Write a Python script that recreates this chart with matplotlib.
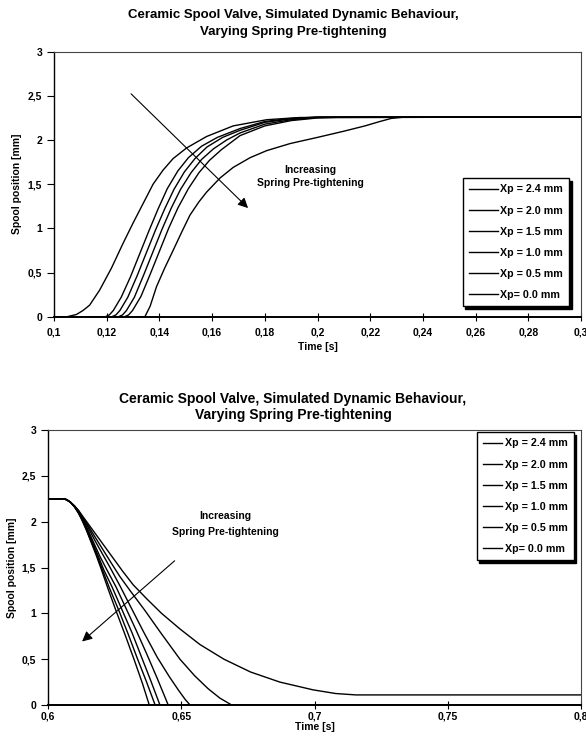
import matplotlib
matplotlib.use("Agg")
import matplotlib.pyplot as plt
from matplotlib.ticker import FuncFormatter, MultipleLocator

plt.rcParams['font.family'] = ['Liberation Sans', 'DejaVu Sans']
plt.rcParams['font.weight'] = 'bold'

# --- data: opening (upper chart) ---
labels = ['Xp = 2.4 mm', 'Xp = 2.0 mm', 'Xp = 1.5 mm', 'Xp = 1.0 mm', 'Xp = 0.5 mm', 'Xp= 0.0 mm']

up_t_24 = [0.100, 0.1345, 0.1365, 0.1389, 0.142, 0.1452, 0.1485, 0.1516, 0.155, 0.1579, 0.1630, 0.1680, 0.1744, 0.1807, 0.1896, 0.200, 0.210, 0.218, 0.2237, 0.228, 0.233, 0.300]
up_v_24 = [0, 0, 0.12, 0.34, 0.55, 0.75, 0.96, 1.15, 1.30, 1.41, 1.57, 1.69, 1.80, 1.88, 1.96, 2.03, 2.10, 2.16, 2.21, 2.245, 2.26, 2.26]
up_t_20 = [0.100, 0.1268, 0.1283, 0.1298, 0.133, 0.1365, 0.140, 0.1435, 0.147, 0.151, 0.155, 0.159, 0.1635, 0.1706, 0.180, 0.190, 0.200, 0.210, 0.300]
up_v_20 = [0, 0, 0.02, 0.07, 0.23, 0.48, 0.74, 1.00, 1.23, 1.45, 1.63, 1.77, 1.89, 2.05, 2.16, 2.22, 2.25, 2.26, 2.26]
up_t_15 = [0.100, 0.1245, 0.126, 0.1275, 0.1305, 0.134, 0.1375, 0.141, 0.1445, 0.148, 0.152, 0.156, 0.1605, 0.1655, 0.1706, 0.180, 0.190, 0.200, 0.300]
up_v_15 = [0, 0, 0.02, 0.07, 0.22, 0.47, 0.73, 0.99, 1.23, 1.44, 1.63, 1.78, 1.90, 2.00, 2.08, 2.18, 2.23, 2.255, 2.26]
up_t_10 = [0.100, 0.122, 0.1235, 0.125, 0.128, 0.1315, 0.135, 0.1385, 0.142, 0.1455, 0.1495, 0.1535, 0.158, 0.164, 0.1706, 0.180, 0.190, 0.200, 0.300]
up_v_10 = [0, 0, 0.02, 0.07, 0.22, 0.46, 0.72, 0.98, 1.22, 1.44, 1.64, 1.79, 1.92, 2.03, 2.11, 2.20, 2.24, 2.26, 2.26]
up_t_05 = [0.100, 0.1195, 0.121, 0.1225, 0.1255, 0.129, 0.1325, 0.136, 0.1395, 0.143, 0.147, 0.151, 0.156, 0.162, 0.1706, 0.180, 0.190, 0.200, 0.300]
up_v_05 = [0, 0, 0.02, 0.07, 0.22, 0.45, 0.71, 0.97, 1.22, 1.45, 1.65, 1.80, 1.93, 2.03, 2.13, 2.21, 2.245, 2.26, 2.26]
up_t_00 = [0.100, 0.105, 0.1085, 0.111, 0.1135, 0.1173, 0.1218, 0.1262, 0.1300, 0.1338, 0.1376, 0.1414, 0.1452, 0.1503, 0.1579, 0.1680, 0.1807, 0.1933, 0.300]
up_v_00 = [0, 0, 0.025, 0.07, 0.13, 0.30, 0.55, 0.83, 1.06, 1.28, 1.50, 1.66, 1.79, 1.91, 2.04, 2.16, 2.23, 2.255, 2.26]

# --- data: closing (lower chart) ---
dn_t_24 = [0.600, 0.6055, 0.607, 0.6085, 0.610, 0.6115, 0.613, 0.6145, 0.616, 0.618, 0.620, 0.6225, 0.6255, 0.629, 0.6325, 0.6355, 0.638, 0.800]
dn_v_24 = [2.25, 2.25, 2.24, 2.21, 2.16, 2.09, 2.00, 1.90, 1.79, 1.64, 1.48, 1.27, 1.03, 0.76, 0.48, 0.23, 0.0, 0.0]
dn_t_20 = [0.600, 0.6055, 0.607, 0.6085, 0.610, 0.6115, 0.613, 0.6145, 0.616, 0.618, 0.6205, 0.623, 0.6266, 0.630, 0.6335, 0.637, 0.6402, 0.800]
dn_v_20 = [2.25, 2.25, 2.24, 2.21, 2.16, 2.09, 2.01, 1.91, 1.80, 1.66, 1.47, 1.28, 1.03, 0.78, 0.51, 0.25, 0.0, 0.0]
dn_t_15 = [0.600, 0.6055, 0.607, 0.6085, 0.610, 0.6115, 0.613, 0.6145, 0.6165, 0.6185, 0.621, 0.624, 0.6279, 0.6315, 0.635, 0.6385, 0.642, 0.800]
dn_v_15 = [2.25, 2.25, 2.24, 2.21, 2.16, 2.10, 2.02, 1.93, 1.79, 1.65, 1.47, 1.29, 1.03, 0.79, 0.53, 0.27, 0.0, 0.0]
dn_t_10 = [0.600, 0.6055, 0.607, 0.6085, 0.610, 0.6115, 0.613, 0.615, 0.617, 0.6195, 0.622, 0.6255, 0.6295, 0.633, 0.637, 0.641, 0.6451, 0.800]
dn_v_10 = [2.25, 2.25, 2.24, 2.21, 2.16, 2.10, 2.03, 1.91, 1.78, 1.62, 1.48, 1.29, 1.04, 0.82, 0.56, 0.29, 0.0, 0.0]
dn_t_05 = [0.600, 0.6055, 0.607, 0.6085, 0.610, 0.6115, 0.613, 0.615, 0.6175, 0.620, 0.6233, 0.627, 0.6314, 0.636, 0.641, 0.6455, 0.649, 0.6515, 0.6533, 0.800]
dn_v_05 = [2.25, 2.25, 2.24, 2.21, 2.17, 2.11, 2.04, 1.94, 1.80, 1.67, 1.50, 1.30, 1.05, 0.79, 0.52, 0.31, 0.16, 0.06, 0.0, 0.0]
dn_t_00 = [0.600, 0.6055, 0.607, 0.6085, 0.610, 0.6115, 0.613, 0.615, 0.6175, 0.6205, 0.6235, 0.627, 0.631, 0.6364, 0.642, 0.6495, 0.655, 0.660, 0.6645, 0.6689, 0.800]
dn_v_00 = [2.25, 2.25, 2.24, 2.21, 2.17, 2.12, 2.05, 1.96, 1.84, 1.70, 1.56, 1.40, 1.24, 1.03, 0.80, 0.50, 0.32, 0.18, 0.075, 0.0, 0.0]
# one more trace in the picture, not in the legend
dn_t_x = [0.600, 0.6055, 0.607, 0.6085, 0.610, 0.6115, 0.613, 0.615, 0.618, 0.621, 0.6245, 0.628, 0.632, 0.637, 0.6426, 0.6495, 0.657, 0.666, 0.676, 0.687, 0.6995, 0.708, 0.7155, 0.800]
dn_v_x = [2.25, 2.25, 2.24, 2.21, 2.17, 2.12, 2.06, 1.98, 1.86, 1.74, 1.60, 1.46, 1.31, 1.16, 1.00, 0.83, 0.66, 0.50, 0.36, 0.25, 0.165, 0.125, 0.11, 0.11]

up_series = [(up_t_24, up_v_24), (up_t_20, up_v_20), (up_t_15, up_v_15),
             (up_t_10, up_v_10), (up_t_05, up_v_05), (up_t_00, up_v_00)]
dn_series = [(dn_t_24, dn_v_24), (dn_t_20, dn_v_20), (dn_t_15, dn_v_15),
             (dn_t_10, dn_v_10), (dn_t_05, dn_v_05), (dn_t_00, dn_v_00)]

title = 'Ceramic Spool Valve, Simulated Dynamic Behaviour,\nVarying Spring Pre-tightening'

comma = FuncFormatter(lambda v, p: ('%g' % round(v, 4)).replace('.', ','))

W, H = 586, 742
fig = plt.figure(figsize=(W / 100, H / 100), dpi=100)


def style(ax, xlim, xstep):
    ax.set_xlim(xlim)
    ax.set_ylim(0, 3)
    ax.xaxis.set_major_locator(MultipleLocator(xstep))
    ax.yaxis.set_major_locator(MultipleLocator(0.5))
    ax.xaxis.set_major_formatter(comma)
    ax.yaxis.set_major_formatter(comma)
    for s in ['top', 'right']:
        ax.spines[s].set_color('#444444')
        ax.spines[s].set_linewidth(0.8)
    ax.spines['bottom'].set_linewidth(1.4)
    ax.spines['left'].set_linewidth(1.0)
    ax.tick_params(axis='x', direction='inout', length=6, width=0.8, labelsize=7.5)
    ax.tick_params(axis='y', direction='out', length=5, width=0.8, labelsize=7.5)
    ax.set_ylabel('Spool position [mm]', fontsize=7.5, fontweight='bold')
    ax.set_xlabel('Time [s]', fontsize=7.5, fontweight='bold')
    for lab in ax.get_xticklabels() + ax.get_yticklabels():
        lab.set_fontweight('bold')


leg_kw = dict(loc='upper left', bbox_transform=fig.transFigure, fontsize=7.7, frameon=True,
              fancybox=False, edgecolor='black', framealpha=1,
              shadow={'color': 'black', 'alpha': 1}, handletextpad=0.2,
              labelspacing=1.04, borderaxespad=0)

# ---------- upper chart ----------
ax1 = fig.add_axes([54 / W, 1 - 316.7 / H, 527 / W, 265 / H])
for (t, v), lab in zip(up_series, labels):
    ax1.plot(t, v, color='black', lw=1.0, label=lab)
style(ax1, (0.1, 0.3), 0.02)
ax1.tick_params(axis='x', pad=5)
ax1.xaxis.set_label_coords(0.5, -0.095)
ax1.yaxis.set_label_coords(-0.06, 0.5)
fig.text(0.5, 1 - 23.5 / H, title, ha='center', va='center', fontsize=9.5,
         fontweight='bold', linespacing=1.45)
ax1.annotate('', xy=(0.1744, 1.208), xytext=(0.1285, 2.545),
             arrowprops=dict(arrowstyle='-|>', color='black', lw=0.8, mutation_scale=15))
ax1.text(0.1972, 1.66, 'Increasing', ha='center', va='center', fontsize=7.5, fontweight='bold')
ax1.text(0.1972, 1.51, 'Spring Pre-tightening', ha='center', va='center', fontsize=7.5, fontweight='bold')
ax1.legend(bbox_to_anchor=(462.7 / W, 1 - 178 / H), handlelength=2.7, borderpad=0.6, **leg_kw)

# ---------- lower chart ----------
ax2 = fig.add_axes([48 / W, 1 - 705 / H, 533 / W, 275 / H])
for (t, v), lab in zip(dn_series, labels):
    ax2.plot(t, v, color='black', lw=1.0, label=lab)
ax2.plot(dn_t_x, dn_v_x, color='black', lw=1.0, label='_nolegend_')
style(ax2, (0.6, 0.8), 0.05)
ax2.tick_params(axis='x', pad=1.5)
ax2.xaxis.set_label_coords(0.5, -0.063)
ax2.yaxis.set_label_coords(-0.059, 0.5)
fig.text(0.5, 1 - 407 / H, title, ha='center', va='center', fontsize=10,
         fontweight='bold', linespacing=1.2)
ax2.annotate('', xy=(0.612, 0.673), xytext=(0.6483, 1.593),
             arrowprops=dict(arrowstyle='-|>', color='black', lw=0.8, mutation_scale=15))
ax2.text(0.6664, 2.062, 'Increasing', ha='center', va='center', fontsize=7.5, fontweight='bold')
ax2.text(0.6664, 1.891, 'Spring Pre-tightening', ha='center', va='center', fontsize=7.5, fontweight='bold')
ax2.legend(bbox_to_anchor=(476.7 / W, 1 - 432 / H), handlelength=1.8, borderpad=0.6, **leg_kw)

fig.savefig('out.png', dpi=100)
